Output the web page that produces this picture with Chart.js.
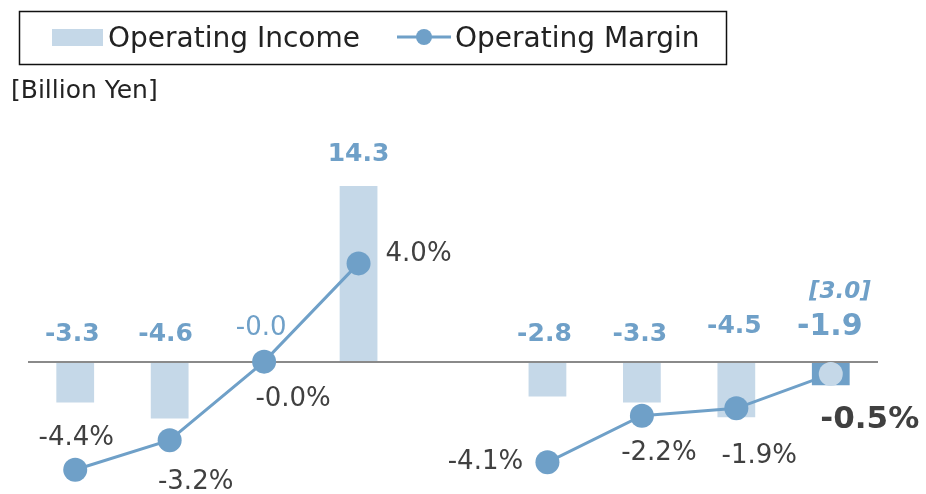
<!DOCTYPE html>
<html>
<head>
<meta charset="utf-8">
<script src="https://cdn.jsdelivr.net/npm/chart.js@4/dist/chart.umd.min.js"></script>
<style>
  html, body { margin: 0; padding: 0; background: #ffffff; }
  #wrap { width: 926px; height: 494px; position: relative; }
</style>
</head>
<body>
<div id="wrap"><canvas id="c" width="926" height="494"></canvas></div>
<script>
// ---- data ----
const categories = ['Q1', 'Q2', 'Q3', 'Q4', '', 'Q1', 'Q2', 'Q3', 'Q4'];
const operatingIncome = [-3.3, -4.6, -0.0, 14.3, null, -2.8, -3.3, -4.5, -1.9];
const operatingMargin = [-4.4, -3.2, -0.0, 4.0, null, -4.1, -2.2, -1.9, -0.5];
const incomeLabels = ['-3.3', '-4.6', '-0.0', '14.3', '', '-2.8', '-3.3', '-4.5', '-1.9'];
const marginLabels = ['-4.4%', '-3.2%', '-0.0%', '4.0%', '', '-4.1%', '-2.2%', '-1.9%', '-0.5%'];
const forecastLabel = '[3.0]';
const unitLabel = '[Billion Yen]';

// ---- styles ----
const BAR_LIGHT = '#c5d8e8';
const BLUE = '#6fa0c8';
const TEXT_DARK = '#404040';
const FONT = '"DejaVu Sans", Verdana, sans-serif';

// per-label offsets (style only)
const barLabelStyle = [
  { dx: -3, dy: -27, font: 'bold 25px ' + FONT },
  { dx: -4, dy: -27, font: 'bold 25px ' + FONT },
  { dx: -3, dy: -34, font: '26px ' + FONT },
  { dx: 0,  dy: -32, font: 'bold 25px ' + FONT },
  null,
  { dx: -3, dy: -27, font: 'bold 25px ' + FONT },
  { dx: -2, dy: -27, font: 'bold 25px ' + FONT },
  { dx: -2, dy: -35, font: 'bold 25px ' + FONT },
  { dx: -1, dy: -35, font: 'bold 30px ' + FONT }
];
const lineLabelStyle = [
  { dx: 1,   dy: -31, font: '26px ' + FONT },
  { dx: 26,  dy: 42,  font: '26px ' + FONT },
  { dx: 29,  dy: 38,  font: '26px ' + FONT },
  { dx: 60,  dy: -9,  font: '26px ' + FONT },
  null,
  { dx: -62, dy: 0,   font: '26px ' + FONT },
  { dx: 17,  dy: 38,  font: '26px ' + FONT },
  { dx: 23,  dy: 48,  font: '26px ' + FONT },
  { dx: 39,  dy: 46,  font: 'bold 31px ' + FONT }
];

const barColors = operatingIncome.map((v, i) => i === operatingIncome.length - 1 ? BLUE : BAR_LIGHT);
const pointColors = operatingMargin.map((v, i) => i === operatingMargin.length - 1 ? BAR_LIGHT : BLUE);

const overlay = {
  id: 'overlay',
  afterDatasetDraw(chart, args) {
    if (args.index !== 0) return;
    const ctx = chart.ctx;
    const zero = chart.scales.yBar.getPixelForValue(0);
    ctx.save();
    ctx.strokeStyle = '#8a8a8a';
    ctx.lineWidth = 2;
    ctx.beginPath();
    ctx.moveTo(chart.chartArea.left, zero);
    ctx.lineTo(chart.chartArea.right, zero);
    ctx.stroke();
    ctx.restore();
  },
  afterDatasetsDraw(chart) {
    const ctx = chart.ctx;
    const zero = chart.scales.yBar.getPixelForValue(0);
    const barMeta = chart.getDatasetMeta(0);
    const lineMeta = chart.getDatasetMeta(1);
    ctx.save();
    ctx.textAlign = 'center';
    ctx.textBaseline = 'middle';
    operatingIncome.forEach((v, i) => {
      if (v === null) return;
      const st = barLabelStyle[i];
      const el = barMeta.data[i];
      const baseY = v >= 0 ? el.y : zero;
      ctx.font = st.font;
      ctx.fillStyle = BLUE;
      ctx.fillText(incomeLabels[i], el.x + st.dx, baseY + st.dy);
    });
    const last = barMeta.data[operatingIncome.length - 1];
    ctx.font = 'italic bold 23px ' + FONT;
    ctx.fillStyle = BLUE;
    ctx.fillText(forecastLabel, last.x + 9, zero - 70);
    operatingMargin.forEach((v, i) => {
      if (v === null) return;
      const st = lineLabelStyle[i];
      const el = lineMeta.data[i];
      ctx.font = st.font;
      ctx.fillStyle = TEXT_DARK;
      ctx.fillText(marginLabels[i], el.x + st.dx, el.y + st.dy);
    });
    ctx.restore();
  },
  afterDraw(chart) {
    const ctx = chart.ctx;
    const ds = chart.data.datasets;
    ctx.save();
    ctx.strokeStyle = '#111111';
    ctx.lineWidth = 1.5;
    ctx.strokeRect(19.5, 11.5, 707, 53);
    ctx.font = '28px ' + FONT;
    ctx.textBaseline = 'alphabetic';
    ctx.textAlign = 'left';
    ctx.fillStyle = BAR_LIGHT;
    ctx.fillRect(52, 29, 51, 17);
    ctx.fillStyle = '#222222';
    ctx.fillText(ds[0].label, 108, 47);
    ctx.strokeStyle = BLUE;
    ctx.lineWidth = 3;
    ctx.beginPath();
    ctx.moveTo(397, 37);
    ctx.lineTo(451, 37);
    ctx.stroke();
    ctx.fillStyle = BLUE;
    ctx.beginPath();
    ctx.arc(424, 37, 8, 0, Math.PI * 2);
    ctx.fill();
    ctx.fillStyle = '#222222';
    ctx.fillText(ds[1].label, 455, 47);
    ctx.font = '25px ' + FONT;
    ctx.fillStyle = '#222222';
    ctx.fillText(unitLabel, 11, 98);
    ctx.restore();
  }
};

new Chart(document.getElementById('c'), {
  data: {
    labels: categories,
    datasets: [
      {
        type: 'bar',
        label: 'Operating Income',
        data: operatingIncome,
        backgroundColor: barColors,
        yAxisID: 'yBar',
        categoryPercentage: 1.0,
        barPercentage: 0.4,
        order: 2
      },
      {
        type: 'line',
        label: 'Operating Margin',
        data: operatingMargin,
        borderColor: BLUE,
        borderWidth: 3,
        pointRadius: 12,
        pointHoverRadius: 12,
        pointBorderWidth: 0,
        pointBackgroundColor: pointColors,
        pointBorderColor: pointColors,
        tension: 0,
        spanGaps: false,
        yAxisID: 'yLine',
        clip: false,
        order: 1
      }
    ]
  },
  options: {
    responsive: false,
    animation: false,
    events: [],
    layout: { padding: { left: 28, right: 48, top: 116, bottom: 0 } },
    plugins: { legend: { display: false }, tooltip: { enabled: false } },
    scales: {
      x: { display: false },
      yBar: { display: false, min: -9.76, max: 20 },
      yLine: { display: false, min: -4.9, max: 10 }
    }
  },
  plugins: [overlay]
});
</script>
</body>
</html>
